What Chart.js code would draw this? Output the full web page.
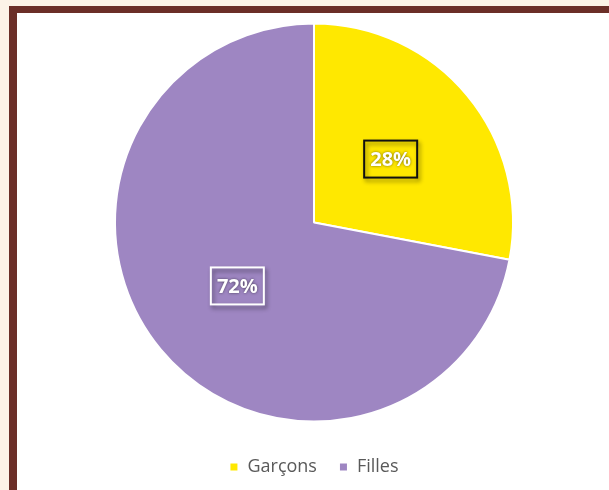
<!DOCTYPE html>
<html>
<head>
<meta charset="utf-8">
<script src="https://cdn.jsdelivr.net/npm/chart.js@4"></script>
<style>
  html, body { margin: 0; padding: 0; }
  body { width: 609px; height: 490px; overflow: hidden; background: #fcf3e7; position: relative; }
  #frame {
    position: absolute; left: 9px; top: 6px; width: 700px; height: 600px;
    background: #fff; border-left: 8px solid #6b2f28; border-top: 7px solid #6b2f28;
  }
  #chart { position: absolute; left: 0; top: 0; }
</style>
</head>
<body>
<div id="frame"></div>
<canvas id="chart" width="609" height="486"></canvas>
<script>
const labels = ['Garçons', 'Filles'];
const shares = [28, 72];
const sliceColors = ['#ffe800', '#9e86c2'];
const labelBorders = ['#111111', '#ffffff'];

// percentage boxes drawn at the middle of each slice
const boxLabels = {
    id: 'boxLabels',
    afterDatasetsDraw(chart) {
        const ctx = chart.ctx;
        const arcs = chart.getDatasetMeta(0).data;
        arcs.forEach((arc, i) => {
            const pos = arc.tooltipPosition();
            const w = 53, h = 37;
            ctx.save();
            ctx.shadowColor = 'rgba(0,0,0,0.45)';
            ctx.shadowOffsetX = 2;
            ctx.shadowOffsetY = 3;
            ctx.shadowBlur = 4;
            ctx.lineWidth = 2;
            ctx.strokeStyle = labelBorders[i];
            ctx.strokeRect(pos.x - w / 2, pos.y - h / 2, w, h);
            ctx.shadowOffsetX = 0;
            ctx.shadowOffsetY = 0;
            ctx.shadowBlur = 3;
            ctx.shadowColor = 'rgba(0,0,0,0.55)';
            ctx.fillStyle = '#ffffff';
            ctx.font = 'bold 20px "Open Sans"';
            ctx.textAlign = 'center';
            ctx.textBaseline = 'middle';
            ctx.fillText(shares[i] + '%', pos.x, pos.y + 1);
            ctx.restore();
        });
    }
};

new Chart(document.getElementById('chart'), {
    type: 'pie',
    data: {
        labels: labels,
        datasets: [{
            data: shares,
            backgroundColor: sliceColors,
            borderColor: '#ffffff',
            borderWidth: 2,
            radius: 199
        }]
    },
    options: {
        responsive: false,
        animation: false,
        events: [],
        layout: { padding: { top: 9, left: 19, right: 0, bottom: 0 } },
        plugins: {
            tooltip: { enabled: false },
            legend: {
                position: 'bottom',
                labels: {
                    boxWidth: 9,
                    boxHeight: 9,
                    padding: 22,
                    color: '#595959',
                    font: { family: '"Open Sans"', size: 18 }
                }
            }
        }
    },
    plugins: [boxLabels]
});
</script>
</body>
</html>
